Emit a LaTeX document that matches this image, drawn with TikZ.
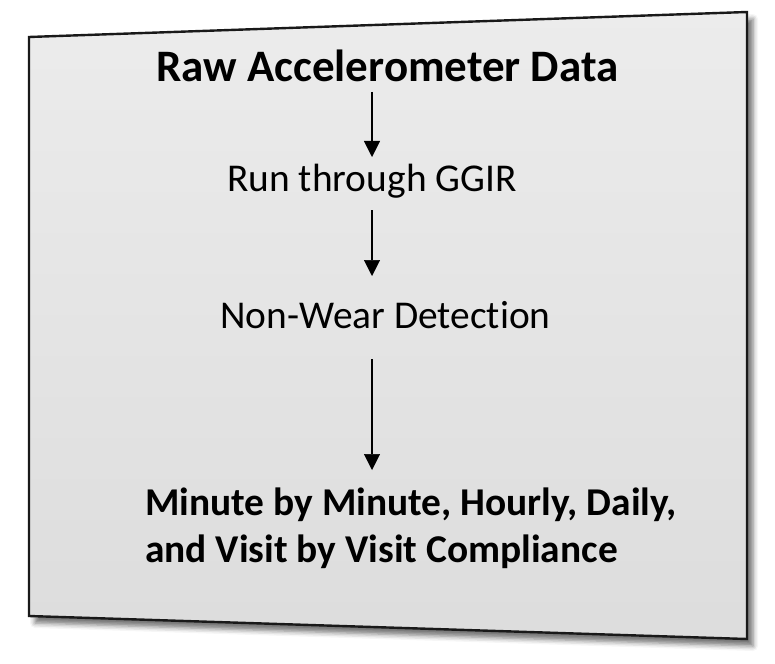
\documentclass[tikz,border=0pt]{standalone}
\usepackage{fontspec}
\setmainfont{Carlito}[Ligatures=NoCommon]
\usetikzlibrary{arrows.meta,shadows.blur}
\begin{document}
\begin{tikzpicture}[x=1pt,y=-1pt,
	main/.style = {inner sep=0pt, anchor=base},
	big/.style = {font=\fontsize{39.4}{47}\selectfont},
	arr/.style = {draw=black, line width=1.2pt, -{Triangle[width=16pt,length=16pt,fill=black,line width=0.5pt]}}]
	\useasboundingbox (0,0) rectangle (775,663);
	
	% the card
	\path[top color=gray!15, bottom color=gray!27, draw=black!90, line width=2.4pt, line join=miter,
		blur shadow={shadow xshift=6pt, shadow yshift=-7pt, shadow blur radius=5pt, shadow opacity=55}]
		(29,37) -- (747,12) -- (747,639) -- (29,616) -- cycle;
	
	\node[main] (raw) at (387.5,82) {\fontsize{45}{54}\selectfont\bfseries Raw Accelerometer Data};
	\node[main,big] (ggir) at (372,191) {Run through GGIR};
	\node[main,big] (nonwear) at (385.5,328) {Non-Wear Detection};
	% base of a two-line node is its last line
	\node[main,big,anchor=base west,align=left] (comp) at (145,562) {\bfseries Minute by Minute, Hourly, Daily,\\\bfseries and Visit by Visit Compliance};
	
	\draw[arr] ([yshift=-10pt]raw.base -| ggir.base) -- ([yshift=34pt]ggir.base);
	\draw[arr] ([yshift=-19pt]ggir.base) -- ([yshift=52pt]nonwear.base -| ggir.base);
	\draw[arr] ([yshift=-31pt]nonwear.base -| ggir.base) -- ([yshift=92pt]comp.base -| ggir.base);
\end{tikzpicture}
\end{document}
